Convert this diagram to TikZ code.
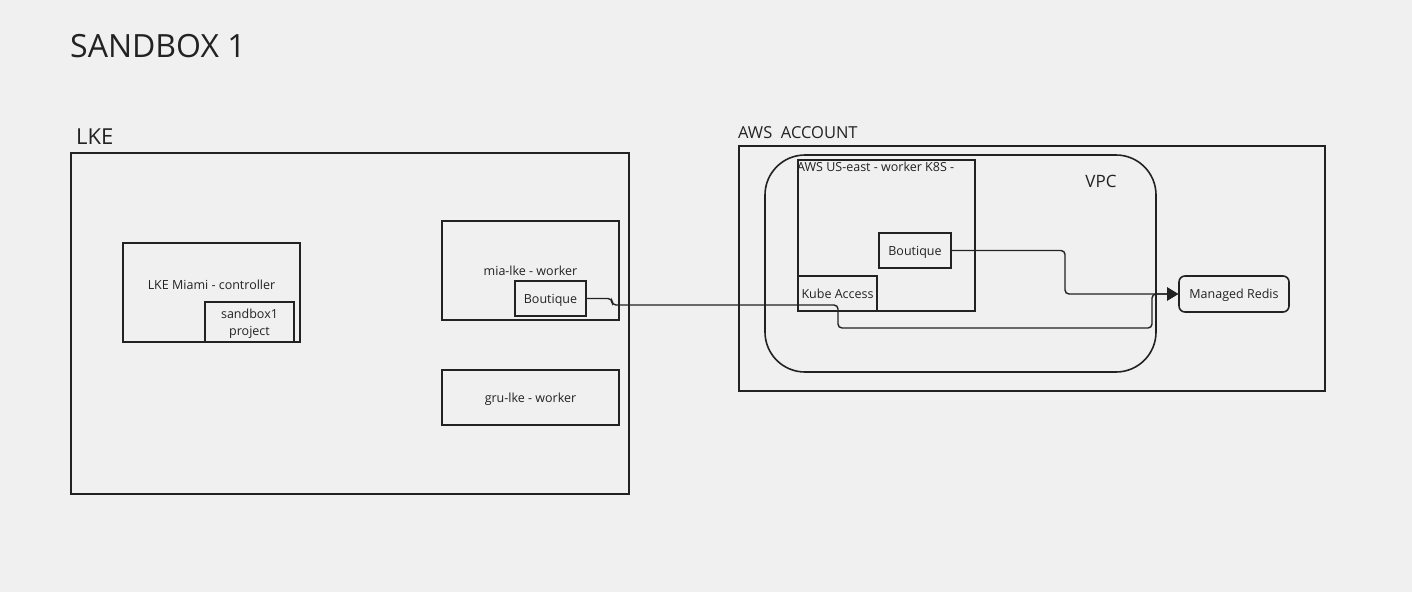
\documentclass[tikz,border=0pt]{standalone}
\usepackage{fontspec}
\setmainfont{Open Sans}
\usetikzlibrary{arrows.meta}

\definecolor{bg}{HTML}{F0F0F0}
\definecolor{ink}{HTML}{222222}

\begin{document}
\begin{tikzpicture}[x=1pt,y=-1pt,
        box/.style={rectangle,draw=ink,line width=1.6pt,inner sep=0pt,align=center,text=ink,text depth=0pt,font=\fontsize{12.5}{15}\selectfont},
        txt/.style={inner sep=0pt,text=ink,font=\fontsize{12.5}{15}\selectfont,align=center},
        link/.style={draw=ink,line width=1.4pt,rounded corners=4pt},
        tip/.style={-{Triangle[length=11pt,width=13pt]}}]
        \fill[bg] (0,0) rectangle (1412,592);
        \useasboundingbox (0,0) rectangle (1412,592);
        \node [txt,anchor=west,font=\fontsize{32}{38}\selectfont] (title) at (70,46) {SANDBOX 1};
        % LKE side
        \node [txt,anchor=west,font=\fontsize{22}{26}\selectfont] (lkel) at (76,137) {LKE};
        \node [box] (lke) at (350,323.5) [minimum width=558pt,minimum height=341pt] {};
        \node [box] (mia-c) at (211.5,292.5) [minimum width=177pt,minimum height=99pt] {};
        \node [txt] (mia-ct) at (211.5,285) {LKE Miami - controller};
        \node [box,font=\fontsize{12.5}{17}\selectfont] (sb1) at (249.5,322) [minimum width=89pt,minimum height=40pt] {sandbox1\\project};
        \node [box] (mia-w) at (530.5,270.5) [minimum width=177pt,minimum height=99pt] {mia-lke - worker};
        \node [box] (mia-b) at (550.5,298.5) [minimum width=71pt,minimum height=35pt] {Boutique};
        \node [box] (gru-w) at (530.5,397.5) [minimum width=177pt,minimum height=55pt] {gru-lke - worker};
        % AWS side
        \node [txt,anchor=west,font=\fontsize{16.5}{20}\selectfont] (awsl) at (738,133) {AWS\ \ ACCOUNT};
        \node [box] (aws) at (1032,268.5) [minimum width=586pt,minimum height=245pt] {};
        \node [box,rounded corners=40pt] (vpc) at (960.5,263.5) [minimum width=391pt,minimum height=217pt] {};
        \node [txt,font=\fontsize{17}{20}\selectfont] (vpcl) at (1101,181) {VPC};
        \node [box] (use) at (886.5,235.5) [minimum width=177pt,minimum height=151pt] {};
        \node [txt,anchor=north west] (usel) at (797,162) {AWS US-east - worker K8S -};
        \node [box] (aws-b) at (915,250.5) [minimum width=72pt,minimum height=35pt] {Boutique};
        \node [box] (kube) at (837.5,293.5) [minimum width=79pt,minimum height=35pt] {Kube Access};
        \node [box,rounded corners=6pt] (redis) at (1234,294) [minimum width=110pt,minimum height=36pt] {Managed Redis};
        \draw [link,tip] (aws-b.east) -- (1065,250.5) -- (1065,294) -- (redis.west);
        \draw [link,tip] (mia-b.east) -- (612,298.5) -- (612,305) -- (838,305) -- (838,328) -- (1152,328) -- (1152,294) -- (redis.west);
\end{tikzpicture}
\end{document}
